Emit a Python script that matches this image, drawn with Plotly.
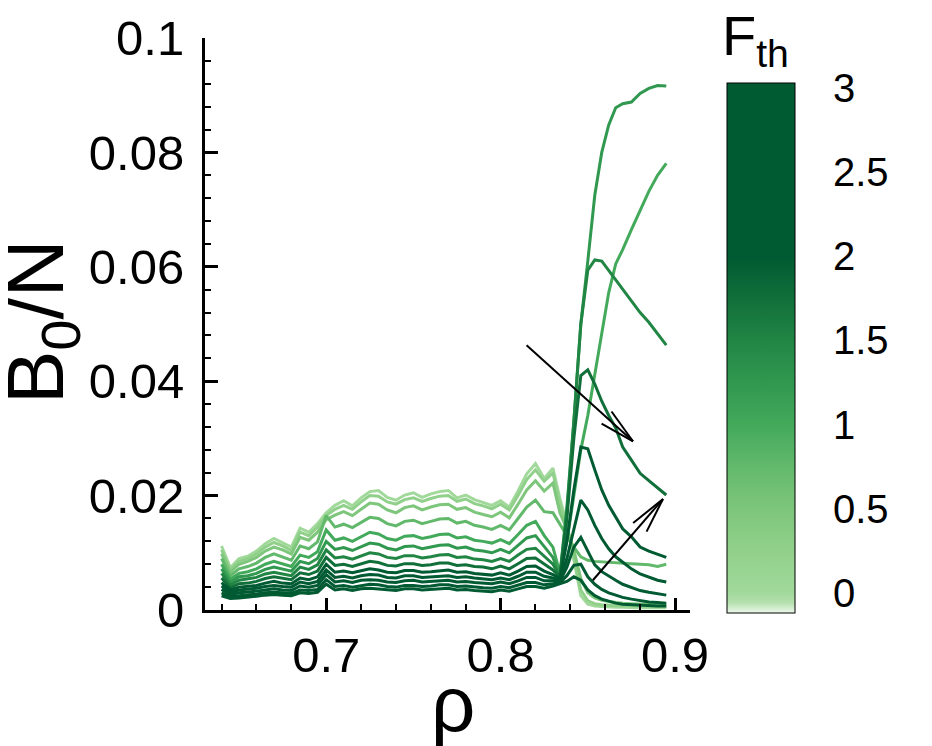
import plotly.graph_objects as go
from plotly.colors import sample_colorscale

# ---------------- data ----------------
rho = [0.640, 0.645, 0.650, 0.655, 0.660, 0.665, 0.670, 0.675, 0.680, 0.685,
       0.690, 0.695, 0.700, 0.705, 0.710, 0.715, 0.720, 0.725, 0.730, 0.735,
       0.740, 0.745, 0.750, 0.755, 0.760, 0.765, 0.770, 0.775, 0.780, 0.785,
       0.790, 0.795, 0.800, 0.805, 0.810, 0.815, 0.820, 0.825, 0.830,
       0.834, 0.838, 0.842, 0.846, 0.850, 0.854, 0.858, 0.862, 0.866, 0.870,
       0.875, 0.880, 0.885, 0.890, 0.895]

f_th_values = [0.0, 0.25, 0.5, 0.75, 1.0, 1.25, 1.5, 1.75, 2.0, 2.25, 2.5, 2.75, 3.0]

b_f000 = [0.0112, 0.0074, 0.0090, 0.0094, 0.0103, 0.0116, 0.0125, 0.0117, 0.0110, 0.0143,
          0.0136, 0.0151, 0.0170, 0.0183, 0.0191, 0.0182, 0.0196, 0.0207, 0.0209, 0.0197,
          0.0192, 0.0201, 0.0205, 0.0197, 0.0203, 0.0207, 0.0209, 0.0196, 0.0201, 0.0193,
          0.0188, 0.0183, 0.0191, 0.0180, 0.0208, 0.0238, 0.0256, 0.0230, 0.0248,
          0.0195, 0.0150, 0.0085, 0.0025, 0.0010, 0.0007, 0.0006, 0.0005, 0.0005, 0.0005,
          0.0004, 0.0004, 0.0004, 0.0004, 0.0004]
b_f025 = [0.0105, 0.0070, 0.0085, 0.0090, 0.0098, 0.0110, 0.0118, 0.0112, 0.0104, 0.0136,
          0.0130, 0.0145, 0.0165, 0.0176, 0.0183, 0.0176, 0.0189, 0.0200, 0.0199, 0.0189,
          0.0185, 0.0193, 0.0196, 0.0190, 0.0195, 0.0199, 0.0200, 0.0190, 0.0194, 0.0186,
          0.0182, 0.0177, 0.0185, 0.0175, 0.0200, 0.0228, 0.0245, 0.0225, 0.0240,
          0.0185, 0.0148, 0.0092, 0.0035, 0.0016, 0.0011, 0.0009, 0.0008, 0.0008, 0.0007,
          0.0007, 0.0006, 0.0006, 0.0006, 0.0006]
b_f050 = [0.0098, 0.0066, 0.0080, 0.0085, 0.0092, 0.0103, 0.0110, 0.0105, 0.0098, 0.0127,
          0.0122, 0.0136, 0.0158, 0.0166, 0.0172, 0.0165, 0.0176, 0.0187, 0.0185, 0.0175,
          0.0170, 0.0179, 0.0182, 0.0175, 0.0180, 0.0184, 0.0185, 0.0176, 0.0179, 0.0171,
          0.0167, 0.0163, 0.0171, 0.0161, 0.0185, 0.0210, 0.0226, 0.0208, 0.0222,
          0.0170, 0.0142, 0.0105, 0.0055, 0.0030, 0.0021, 0.0017, 0.0015, 0.0013, 0.0012,
          0.0011, 0.0010, 0.0010, 0.0009, 0.0009]
b_f075 = [0.0090, 0.0060, 0.0072, 0.0076, 0.0082, 0.0092, 0.0098, 0.0093, 0.0087, 0.0112,
          0.0107, 0.0119, 0.0165, 0.0145, 0.0150, 0.0144, 0.0153, 0.0162, 0.0160, 0.0151,
          0.0147, 0.0155, 0.0157, 0.0151, 0.0155, 0.0159, 0.0160, 0.0152, 0.0155, 0.0148,
          0.0145, 0.0141, 0.0148, 0.0140, 0.0160, 0.0180, 0.0192, 0.0172, 0.0170,
          0.0150, 0.0130, 0.0110, 0.0093, 0.0087, 0.0085, 0.0084, 0.0084, 0.0083, 0.0082,
          0.0081, 0.0080, 0.0079, 0.0076, 0.0080]
b_f100 = [0.0080, 0.0054, 0.0064, 0.0067, 0.0072, 0.0080, 0.0085, 0.0080, 0.0076, 0.0096,
          0.0092, 0.0102, 0.0140, 0.0122, 0.0126, 0.0120, 0.0128, 0.0136, 0.0133, 0.0125,
          0.0122, 0.0129, 0.0130, 0.0125, 0.0128, 0.0132, 0.0133, 0.0126, 0.0128, 0.0122,
          0.0120, 0.0117, 0.0123, 0.0116, 0.0132, 0.0148, 0.0155, 0.0130, 0.0110,
          0.0065, 0.0120, 0.0200, 0.0280, 0.0340, 0.0410, 0.0480, 0.0555, 0.0605, 0.0630,
          0.0665, 0.0700, 0.0732, 0.0760, 0.0781]
b_f125 = [0.0072, 0.0049, 0.0058, 0.0060, 0.0064, 0.0071, 0.0075, 0.0071, 0.0068, 0.0085,
          0.0081, 0.0090, 0.0120, 0.0106, 0.0109, 0.0104, 0.0111, 0.0117, 0.0115, 0.0108,
          0.0105, 0.0111, 0.0112, 0.0107, 0.0110, 0.0113, 0.0114, 0.0108, 0.0110, 0.0105,
          0.0103, 0.0100, 0.0106, 0.0100, 0.0113, 0.0126, 0.0130, 0.0110, 0.0092,
          0.0060, 0.0180, 0.0330, 0.0500, 0.0610, 0.0725, 0.0800, 0.0848, 0.0878, 0.0885,
          0.0888, 0.0903, 0.0912, 0.0917, 0.0916]
b_f150 = [0.0064, 0.0044, 0.0052, 0.0054, 0.0057, 0.0063, 0.0066, 0.0063, 0.0060, 0.0075,
          0.0071, 0.0079, 0.0105, 0.0091, 0.0093, 0.0089, 0.0095, 0.0100, 0.0098, 0.0092,
          0.0090, 0.0095, 0.0095, 0.0091, 0.0093, 0.0096, 0.0097, 0.0092, 0.0093, 0.0089,
          0.0088, 0.0085, 0.0090, 0.0085, 0.0096, 0.0106, 0.0108, 0.0094, 0.0080,
          0.0060, 0.0170, 0.0330, 0.0500, 0.0594, 0.0612, 0.0610, 0.0594, 0.0576, 0.0560,
          0.0540, 0.0520, 0.0503, 0.0483, 0.0463]
b_f175 = [0.0056, 0.0039, 0.0046, 0.0047, 0.0050, 0.0055, 0.0058, 0.0055, 0.0053, 0.0065,
          0.0062, 0.0068, 0.0092, 0.0078, 0.0080, 0.0076, 0.0081, 0.0085, 0.0083, 0.0078,
          0.0077, 0.0081, 0.0081, 0.0078, 0.0079, 0.0082, 0.0082, 0.0078, 0.0079, 0.0076,
          0.0075, 0.0072, 0.0077, 0.0072, 0.0081, 0.0090, 0.0091, 0.0080, 0.0070,
          0.0058, 0.0160, 0.0300, 0.0410, 0.0420, 0.0395, 0.0365, 0.0340, 0.0318, 0.0285,
          0.0262, 0.0239, 0.0226, 0.0214, 0.0201]
b_f200 = [0.0048, 0.0035, 0.0040, 0.0041, 0.0043, 0.0047, 0.0050, 0.0047, 0.0046, 0.0056,
          0.0053, 0.0058, 0.0080, 0.0066, 0.0068, 0.0065, 0.0069, 0.0072, 0.0070, 0.0066,
          0.0065, 0.0069, 0.0069, 0.0066, 0.0067, 0.0069, 0.0070, 0.0066, 0.0067, 0.0064,
          0.0063, 0.0061, 0.0065, 0.0061, 0.0068, 0.0076, 0.0077, 0.0068, 0.0062,
          0.0055, 0.0120, 0.0210, 0.0285, 0.0282, 0.0245, 0.0210, 0.0183, 0.0162, 0.0142,
          0.0128, 0.0110, 0.0103, 0.0097, 0.0092]
b_f225 = [0.0042, 0.0031, 0.0035, 0.0036, 0.0038, 0.0041, 0.0043, 0.0041, 0.0040, 0.0049,
          0.0046, 0.0050, 0.0070, 0.0057, 0.0059, 0.0056, 0.0060, 0.0062, 0.0061, 0.0057,
          0.0056, 0.0060, 0.0060, 0.0057, 0.0058, 0.0060, 0.0060, 0.0057, 0.0058, 0.0056,
          0.0055, 0.0053, 0.0056, 0.0053, 0.0059, 0.0066, 0.0066, 0.0059, 0.0056,
          0.0052, 0.0090, 0.0140, 0.0192, 0.0175, 0.0148, 0.0125, 0.0107, 0.0093, 0.0083,
          0.0072, 0.0063, 0.0057, 0.0052, 0.0049]
b_f250 = [0.0036, 0.0027, 0.0030, 0.0031, 0.0033, 0.0035, 0.0037, 0.0035, 0.0034, 0.0042,
          0.0040, 0.0043, 0.0062, 0.0049, 0.0051, 0.0048, 0.0052, 0.0053, 0.0052, 0.0049,
          0.0048, 0.0051, 0.0052, 0.0049, 0.0050, 0.0052, 0.0052, 0.0049, 0.0050, 0.0048,
          0.0047, 0.0046, 0.0049, 0.0046, 0.0051, 0.0057, 0.0057, 0.0051, 0.0051,
          0.0050, 0.0075, 0.0110, 0.0127, 0.0102, 0.0079, 0.0067, 0.0059, 0.0052, 0.0045,
          0.0039, 0.0034, 0.0031, 0.0028, 0.0026]
b_f275 = [0.0030, 0.0023, 0.0025, 0.0026, 0.0028, 0.0030, 0.0031, 0.0030, 0.0029, 0.0035,
          0.0034, 0.0036, 0.0053, 0.0041, 0.0043, 0.0040, 0.0043, 0.0045, 0.0044, 0.0041,
          0.0040, 0.0043, 0.0043, 0.0041, 0.0042, 0.0044, 0.0044, 0.0041, 0.0042, 0.0040,
          0.0039, 0.0038, 0.0041, 0.0039, 0.0043, 0.0048, 0.0048, 0.0044, 0.0046,
          0.0048, 0.0060, 0.0078, 0.0080, 0.0058, 0.0045, 0.0036, 0.0030, 0.0026, 0.0022,
          0.0019, 0.0016, 0.0014, 0.0013, 0.0012]
b_f300 = [0.0025, 0.0020, 0.0021, 0.0022, 0.0024, 0.0026, 0.0027, 0.0026, 0.0025, 0.0030,
          0.0029, 0.0031, 0.0045, 0.0035, 0.0037, 0.0034, 0.0037, 0.0038, 0.0037, 0.0035,
          0.0034, 0.0037, 0.0037, 0.0035, 0.0036, 0.0037, 0.0038, 0.0035, 0.0036, 0.0034,
          0.0033, 0.0032, 0.0035, 0.0033, 0.0037, 0.0041, 0.0041, 0.0038, 0.0042,
          0.0046, 0.0050, 0.0058, 0.0052, 0.0035, 0.0025, 0.0019, 0.0015, 0.0012, 0.0010,
          0.0009, 0.0008, 0.0008, 0.0007, 0.0007]

colorbar_ticks = [0, 0.5, 1, 1.5, 2, 2.5, 3]
colorbar_ticktext = ["0", "0.5", "1", "1.5", "2", "2.5", "3"]
x_ticks = [0.7, 0.8, 0.9]
x_ticktext = ["0.7", "0.8", "0.9"]

# arrows (annotation guides): tail -> tip, and two head wing ends
arrow1 = dict(tail=(0.8149, 0.0463), tip=(0.8759, 0.0295),
              w1=(0.8636, 0.0347), w2=(0.8579, 0.0326))
arrow2 = dict(tail=(0.8529, 0.0052), tip=(0.8931, 0.0194),
              w1=(0.8760, 0.0152), w2=(0.8837, 0.0137))

# ---------------- style ----------------
CMIN, CMAX = -0.12, 3.03
colorscale = [
    [0.0, "rgb(238,248,236)"],
    [0.019, "rgb(181,224,174)"],
    [0.0381, "rgb(161,217,155)"],
    [0.1175, "rgb(145,208,139)"],
    [0.1968, "rgb(125,198,123)"],
    [0.2762, "rgb(98,185,108)"],
    [0.3556, "rgb(67,169,91)"],
    [0.4349, "rgb(48,152,79)"],
    [0.5143, "rgb(33,133,68)"],
    [0.5937, "rgb(17,111,58)"],
    [0.6730, "rgb(0,90,50)"],
    [1.0, "rgb(0,90,50)"],
]

FONT = "Liberation Sans, Arial, Helvetica, sans-serif"
OFF = 8  # page body margin of the browser
PAGE_W, PAGE_H = 932, 746
W, H = PAGE_W - OFF, PAGE_H - OFF
# plot area in page pixels: x 205..690, y 38..610
L = 205 - OFF
T = 38 - OFF
R = W - (690 - OFF)
B = H - (610 - OFF)
PW, PH = W - L - R, H - T - B


def px_x(x):
    """page pixel x -> paper coordinate"""
    return (x - OFF - L) / PW


def px_y(y):
    """page pixel y -> paper coordinate"""
    return (H - B - (y - OFF)) / PH


series = [b_f000, b_f025, b_f050, b_f075, b_f100, b_f125, b_f150,
          b_f175, b_f200, b_f225, b_f250, b_f275, b_f300]

fig = go.Figure()
for fval, yvals in zip(f_th_values, series):
    t = (fval - CMIN) / (CMAX - CMIN)
    col = sample_colorscale(colorscale, [t])[0]
    fig.add_trace(go.Scatter(x=rho, y=yvals, mode="lines",
                             line=dict(color=col, width=3),
                             showlegend=False, hoverinfo="skip"))

# colorbar carrier
fig.add_trace(go.Scatter(
    x=[None], y=[None], mode="markers", showlegend=False,
    marker=dict(color=[0], colorscale=colorscale, cmin=CMIN, cmax=CMAX,
                showscale=True,
                colorbar=dict(
                    x=px_x(727), xanchor="left", xref="paper",
                    y=px_y((83 + 613) / 2), yanchor="middle", yref="paper",
                    len=530, lenmode="pixels", thickness=68, thicknessmode="pixels",
                    outlinewidth=1, outlinecolor="black",
                    tickvals=colorbar_ticks, ticktext=colorbar_ticktext,
                    ticks="outside", ticklen=30, tickcolor="rgba(0,0,0,0)",
                    tickfont=dict(family=FONT, size=40, color="black"),
                    xpad=0, ypad=0,
                ))))

# arrows
for a in (arrow1, arrow2):
    for start in (a["tail"], a["w1"], a["w2"]):
        fig.add_shape(type="line", xref="x", yref="y",
                      x0=start[0], y0=start[1], x1=a["tip"][0], y1=a["tip"][1],
                      line=dict(color="black", width=2))

axis_common = dict(showline=True, linecolor="black", linewidth=3,
                   ticks="inside", tickcolor="black", showgrid=False,
                   zeroline=False, mirror=False,
                   tickfont=dict(family=FONT, size=49, color="black"))

fig.update_xaxes(range=[0.6305, 0.9086], tickvals=x_ticks, ticktext=x_ticktext,
                 ticklen=12, tickwidth=3, ticklabelstandoff=0,
                 minor=dict(dtick=0.02, tick0=0.7, ticks="inside", ticklen=6,
                            tickwidth=1.5, tickcolor="black"),
                 **axis_common)
fig.update_yaxes(range=[0, 0.1], dtick=0.02, tick0=0,
                 ticklen=13, tickwidth=3, ticklabelstandoff=8,
                 minor=dict(dtick=0.004, tick0=0, ticks="inside", ticklen=6,
                            tickwidth=1.5, tickcolor="black"),
                 **axis_common)

fig.add_annotation(text="B<sub>0</sub>/N", xref="paper", yref="paper",
                   x=px_x(41), y=px_y(322), textangle=-90, showarrow=False,
                   xanchor="center", yanchor="middle",
                   font=dict(family=FONT, size=80, color="black"))
fig.add_annotation(text="ρ", xref="paper", yref="paper",
                   x=px_x(453), y=px_y(704), showarrow=False,
                   xanchor="center", yanchor="middle",
                   font=dict(family=FONT, size=78, color="black"))
fig.add_annotation(text="F<sub>th</sub>", xref="paper", yref="paper",
                   x=px_x(755), y=px_y(39), showarrow=False,
                   xanchor="center", yanchor="middle",
                   font=dict(family=FONT, size=56, color="black"))

fig.update_layout(width=W, height=H,
                  margin=dict(l=L, r=R, t=T, b=B, autoexpand=False),
                  paper_bgcolor="white", plot_bgcolor="white",
                  font=dict(family=FONT, color="black"))

fig.write_html("out.html")
